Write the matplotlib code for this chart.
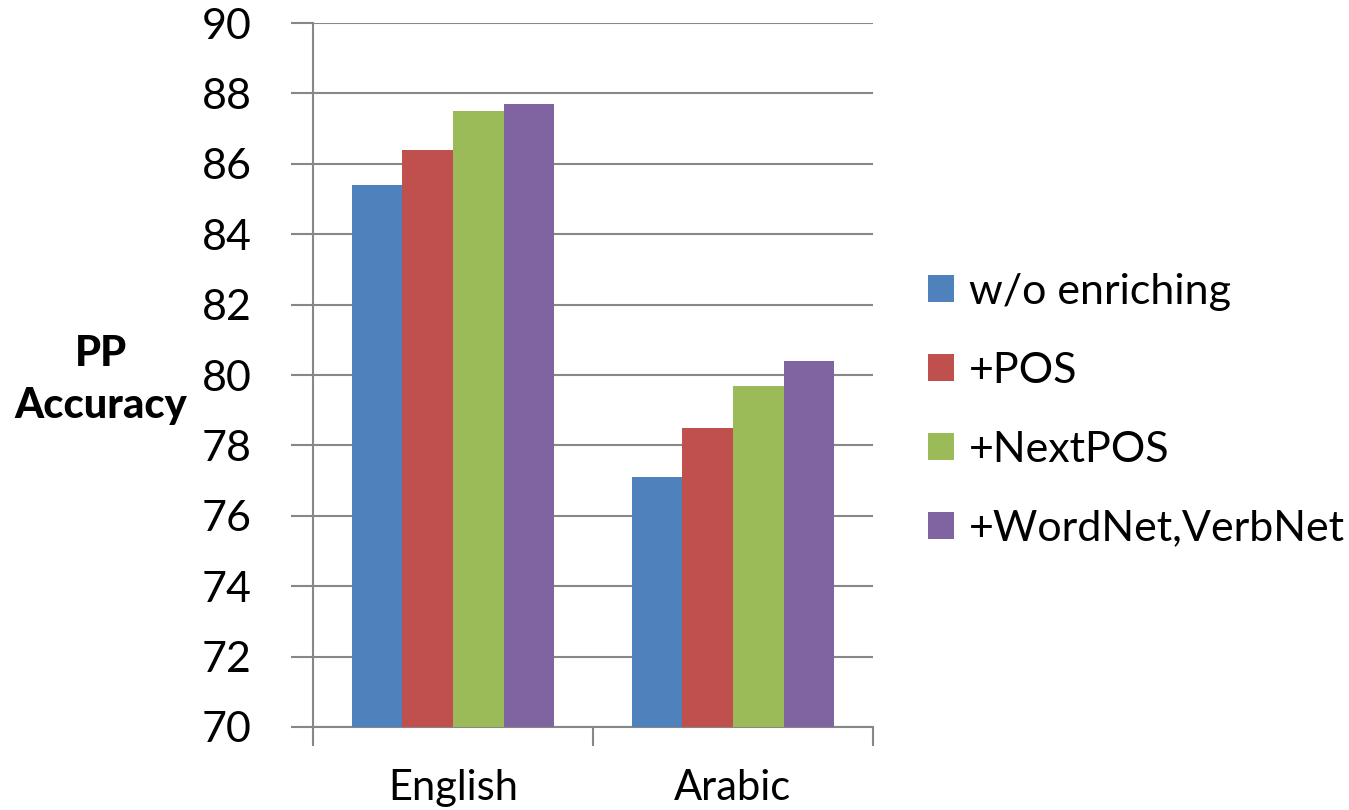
from matplotlib import pyplot as plt
import numpy as np

plt.rcParams['font.family'] = ['Lato', 'DejaVu Sans']

categories = ['English', 'Arabic']
series = ['w/o enriching', '+POS', '+NextPOS', '+WordNet,VerbNet']
values = [
    [85.4, 77.1],
    [86.4, 78.5],
    [87.5, 79.7],
    [87.7, 80.4],
]
colors = ['#4F81BD', '#C0504D', '#9BBB59', '#8064A2']
yticks = [70, 72, 74, 76, 78, 80, 82, 84, 86, 88, 90]

gridc = '#878787'

fig = plt.figure(figsize=(13.49, 8.10), dpi=100)
ax = fig.add_axes([0.232, 0.1025, 0.415, 0.869])

x = np.arange(len(categories))
width = 0.181
nser = len(series)
for i, (name, vals) in enumerate(zip(series, values)):
    offs = (i - (nser - 1) / 2.0) * width
    ax.bar(x + offs, vals, width, color=colors[i], label=name, zorder=3)

ax.set_xlim(-0.5, 1.5)
ax.set_ylim(70, 90)
ax.set_yticks(yticks)
ax.set_yticklabels([str(t) for t in yticks], fontsize=31)
ax.yaxis.grid(True, color=gridc, lw=1.5, zorder=0)

# category labels, tick marks at boundaries
ax.set_xticks([-0.5, 0.5, 1.5])
ax.set_xticklabels([])
ax.set_xticks(x, minor=True)
ax.set_xticklabels(categories, minor=True, fontsize=30)
ax.tick_params(axis='x', which='minor', length=0, pad=30)
ax.tick_params(axis='x', which='major', length=14, width=1.5, color=gridc)
ax.tick_params(axis='y', length=16, width=1.5, color=gridc, pad=28)

for s in ['top', 'right']:
    ax.spines[s].set_visible(False)
for s in ['left', 'bottom']:
    ax.spines[s].set_color(gridc)
    ax.spines[s].set_linewidth(1.5)

fig.text(0.075, 0.531, 'PP\nAccuracy', fontsize=30, fontweight='black',
         ha='center', va='center', linespacing=1.45)

leg = ax.legend(loc='center left', bbox_to_anchor=(1.03, 0.45), frameon=False,
                fontsize=31, handlelength=0.6, handleheight=0.6,
                handletextpad=0.35, labelspacing=0.95)

plt.savefig('out.png', dpi=100)
